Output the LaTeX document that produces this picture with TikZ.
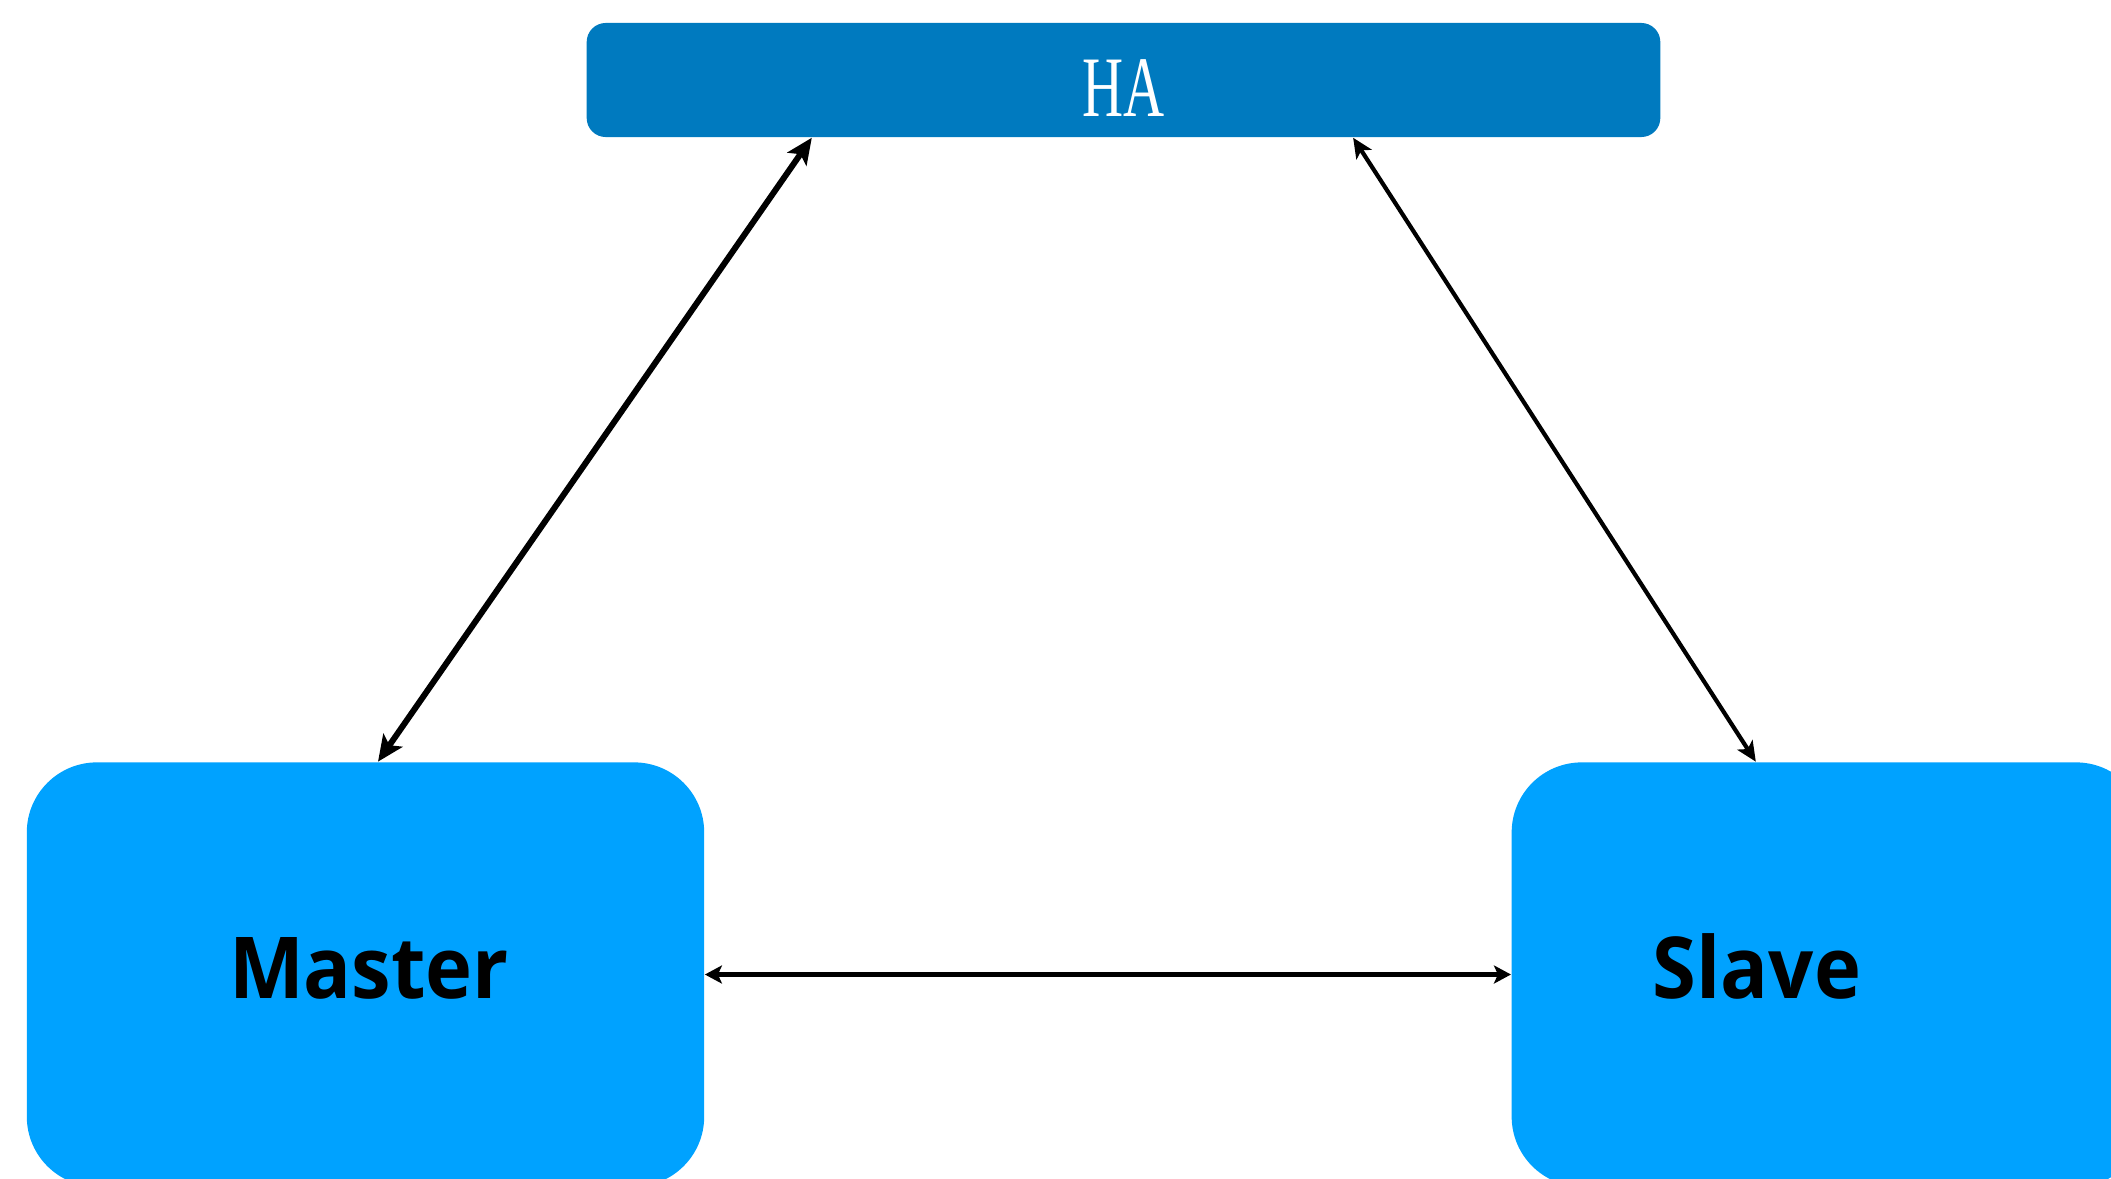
\documentclass[tikz,border=0pt]{standalone}
\usepackage{fontspec}
\setmainfont{Liberation Serif}
\newfontfamily\boxfont{Open Sans}
\usetikzlibrary{positioning,arrows.meta}
\tikzset{>={Stealth[length=2.6mm,width=2.3mm,inset=0.6mm]}}
\definecolor{habg}{RGB}{0,122,191}
\definecolor{serverbg}{RGB}{0,162,255}

\begin{document}
\begin{tikzpicture}[x=0.01cm, y=-0.01cm,
    server/.style={fill=serverbg, rounded corners=0.7cm, minimum width=6.77cm, minimum height=4.24cm, inner sep=0pt},
    srvtext/.style={anchor=base, inner sep=0pt, font=\boxfont\bfseries\fontsize{24.3}{29}\selectfont}]
      \clip (0,0) rectangle (2111,1178);
      \node[fill=habg, rounded corners=0.19cm, minimum width=10.73cm, minimum height=1.14cm, inner sep=0pt] (ha) at (1123.5,80) {};
      \node[anchor=base, inner sep=0pt, text=white, font=\fontsize{24.5}{29}\selectfont] (hatext) at (1124,116) {\scalebox{0.66}[1]{HA}};
      \node[server] (master) at (365.5,974.5) {};
      \node[server, minimum width=6.34cm, right of=master, node distance=14.625cm] (slave) {};
      \node[srvtext] (mastertext) at (369,998) {\scalebox{0.93}[1]{Master}};
      \node[srvtext] (slavetext) at (1757,998) {\scalebox{0.93}[1]{Slave}};
      \draw[<->, line width=0.6mm] ([xshift=0.125cm]master.north) -- ([xshift=-3.115cm]ha.south);
      \draw[{Stealth[length=2mm,width=1.8mm,inset=0.5mm]}-{Stealth[length=2mm,width=1.8mm,inset=0.5mm]}, line width=0.42mm] ([xshift=2.295cm]ha.south) -- ([xshift=-0.73cm]slave.north);
      \draw[{Stealth[length=1.7mm,width=1.8mm,inset=0.4mm]}-{Stealth[length=1.7mm,width=1.8mm,inset=0.4mm]}, line width=0.5mm] (master.east) -- (slave.west);
    \end{tikzpicture}
\end{document}
